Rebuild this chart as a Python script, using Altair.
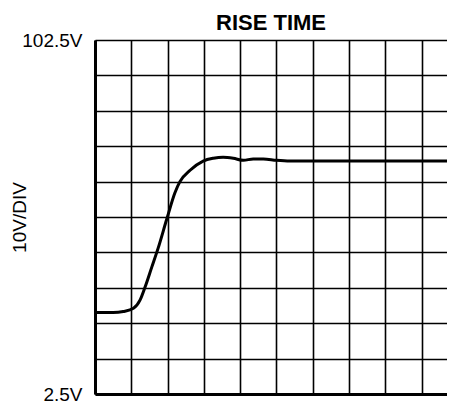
import altair as alt
import pandas as pd

# time in divisions, voltage in volts
t_div = [0, 0.5, 0.78, 1.06, 1.24, 1.38, 1.56, 1.74, 1.98, 2.20, 2.34, 2.62, 2.98,
         3.26, 3.53, 3.81, 4.09, 4.36, 4.64, 5.0, 5.37, 6, 7, 8, 9, 10]
volts = [25.5, 25.5, 25.8, 26.7, 29.0, 32.7, 38.2, 43.7, 52.0, 59.3, 62.5, 65.7, 68.3,
         69.1, 69.4, 69.1, 68.5, 68.9, 68.9, 68.5, 68.3, 68.3, 68.3, 68.3, 68.3, 68.3]

x_grid = list(range(0, 10))
y_grid = [2.5 + 10 * i for i in range(11)]

df = pd.DataFrame({"t": t_div, "v": volts})

FONT = "Liberation Sans"
W, H = 352, 354

chart = alt.Chart(df).mark_line(
    color="black", strokeWidth=3, interpolate="monotone", clip=True
).encode(
    x=alt.X("t:Q", scale=alt.Scale(domain=[0, 9.70], nice=False, zero=False),
            axis=alt.Axis(values=x_grid, labels=False, ticks=False, tickSize=0,
                          title=None, grid=True, gridColor="black", gridWidth=1.6,
                          gridOpacity=1, domainColor="black", domainWidth=3)),
    y=alt.Y("v:Q", scale=alt.Scale(domain=[2.5, 102.5], nice=False, zero=False),
            axis=alt.Axis(values=y_grid, ticks=False, tickSize=0,
                          labelExpr="datum.value == 2.5 || datum.value == 102.5 ? datum.value + 'V' : ''",
                          labelFont=FONT, labelFontSize=19, labelColor="black",
                          labelPadding=13, labelBaseline="middle",
                          title="10V/DIV", titleFont=FONT, titleFontSize=19,
                          titleFontWeight="normal", titleColor="black",
                          titleX=-70, titleY=H / 2, titleBaseline="alphabetic",
                          titleAngle=270,
                          grid=True, gridColor="black", gridWidth=1.6, gridOpacity=1,
                          domainColor="black", domainWidth=3)),
).properties(
    width=W, height=H,
    title=alt.TitleParams("RISE TIME", font=FONT, fontSize=22, fontWeight="bold",
                          color="black", anchor="middle", frame="group",
                          baseline="alphabetic", offset=3, dy=24),
    padding={"left": 87, "top": 32, "right": 0, "bottom": 11},
    autosize=alt.AutoSizeParams(type="none"),
).configure_view(stroke=None)

chart.save("out.html", embed_options={"renderer": "svg", "actions": False})
